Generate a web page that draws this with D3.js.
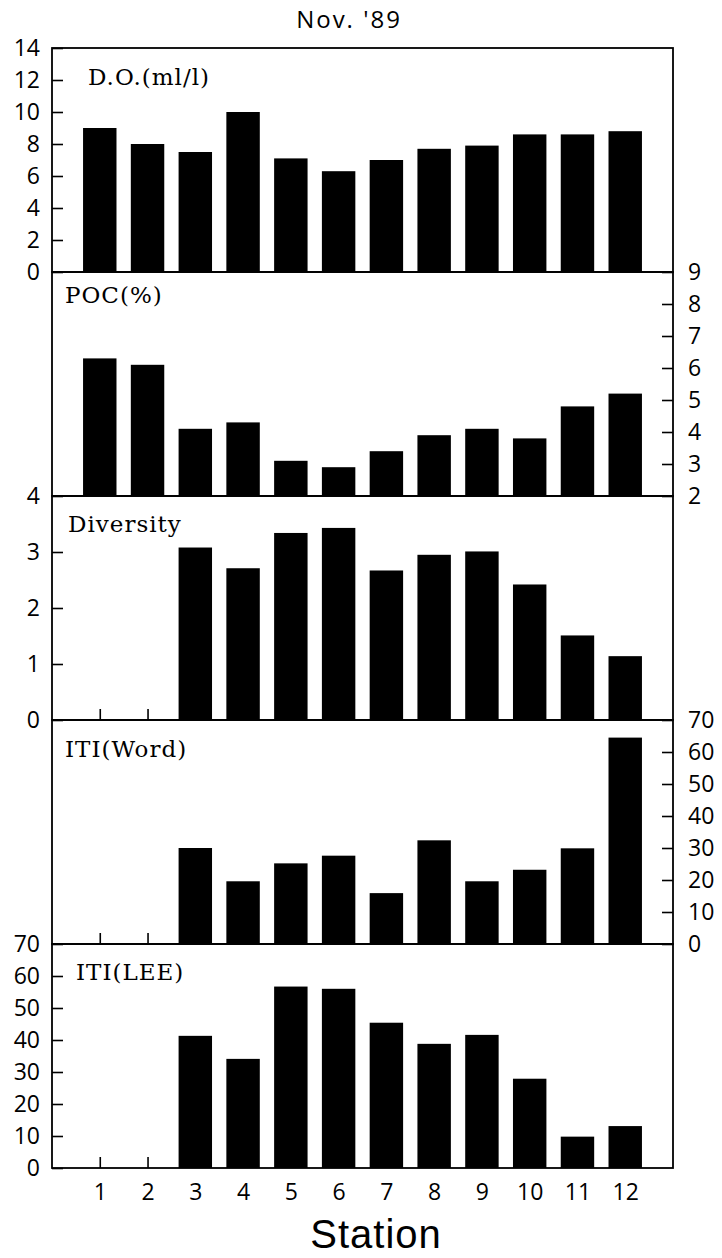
<!DOCTYPE html>
<html>
<head>
<meta charset="utf-8">
<script src="https://cdn.jsdelivr.net/npm/d3@7"></script>
<style>
  body { margin: 0; background: #fff; }
</style>
</head>
<body>
<script>
// station numbers along the bottom
const stations = [1, 2, 3, 4, 5, 6, 7, 8, 9, 10, 11, 12]

// one value per station, null = no bar
const doValues = [9.0, 8.0, 7.5, 10.0, 7.1, 6.3, 7.0, 7.7, 7.9, 8.6, 8.6, 8.8]
const pocValues = [6.3, 6.1, 4.1, 4.3, 3.1, 2.9, 3.4, 3.9, 4.1, 3.8, 4.8, 5.2]
const diversityValues = [null, null, 3.08, 2.71, 3.34, 3.43, 2.67, 2.95, 3.01, 2.42, 1.51, 1.14]
const itiWordValues = [null, null, 30.0, 19.6, 25.2, 27.6, 15.9, 32.4, 19.6, 23.2, 29.9, 64.5]
const itiLeeValues = [null, null, 41.3, 34.1, 56.7, 56.0, 45.4, 38.8, 41.6, 27.9, 9.8, 13.1]

// tick labels
const doTicks = [0, 2, 4, 6, 8, 10, 12, 14]
const pocTicks = [2, 3, 4, 5, 6, 7, 8, 9]
const diversityTicks = [0, 1, 2, 3, 4]
const itiTicks = [0, 10, 20, 30, 40, 50, 60, 70]

const panels = [
    { label: "D.O.(ml/l)", values: doValues, ticks: doTicks, side: "left", lx: 88, ly: 37 },
    { label: "POC(%)", values: pocValues, ticks: pocTicks, side: "right", lx: 65, ly: 31 },
    { label: "Diversity", values: diversityValues, ticks: diversityTicks, side: "left", lx: 68, ly: 36 },
    { label: "ITI(Word)", values: itiWordValues, ticks: itiTicks, side: "right", lx: 65, ly: 37 },
    { label: "ITI(LEE)", values: itiLeeValues, ticks: itiTicks, side: "left", lx: 76, ly: 36 }
]

const width = 722
const height = 1258
const marginLeft = 52
const plotRight = 673
const marginTop = 48
const panelHeight = 224
const sansFont = "'Open Sans', 'Liberation Sans', sans-serif"

const svg = d3.select("body").append("svg")
    .attr("width", width)
    .attr("height", height)
    .attr("viewBox", [0, 0, width, height])

const x = d3.scaleLinear([0, 13], [marginLeft, plotRight])
const barWidth = (x(1) - x(0)) * 0.7

svg.append("text")
    .attr("x", 349)
    .attr("y", 28)
    .attr("text-anchor", "middle")
    .style("font", `24px ${sansFont}`)
    .style("letter-spacing", "2px")
    .text("Nov. '89")

panels.forEach((p, i) => {
    const y0 = marginTop + i * panelHeight
    const y = d3.scaleLinear(d3.extent(p.ticks), [y0 + panelHeight, y0])
    const g = svg.append("g")

    // station ticks pointing up from each panel's floor
    g.append("g")
        .attr("transform", `translate(0,${y0 + panelHeight})`)
        .call(d3.axisBottom(x).tickValues(stations).tickSize(-11).tickFormat(i === panels.length - 1 ? d3.format("d") : ""))
        .call(a => a.select(".domain").remove())
        .call(a => a.selectAll("line").attr("stroke-width", 1.6))
        .call(a => a.selectAll("text").attr("fill", "#000").attr("y", 16)
            .style("font", `23px ${sansFont}`))

    const yAxis = p.side === "left"
        ? d3.axisLeft(y).tickPadding(12)
        : d3.axisRight(y).tickPadding(15)
    g.append("g")
        .attr("transform", `translate(${p.side === "left" ? marginLeft : plotRight},0)`)
        .call(yAxis.tickValues(p.ticks).tickSize(-11).tickFormat(d3.format("d")))
        .call(a => a.select(".domain").remove())
        .call(a => a.selectAll("line").attr("stroke-width", 1.6))
        .call(a => a.selectAll("text").attr("fill", "#000")
            .style("font", `23px ${sansFont}`))

    g.append("g")
        .selectAll("rect")
        .data(stations.map((s, k) => ({ station: s, value: p.values[k] })).filter(d => d.value != null))
        .join("rect")
        .attr("x", d => x(d.station) - barWidth / 2)
        .attr("width", barWidth)
        .attr("y", d => y(d.value))
        .attr("height", d => y(y.domain()[0]) - y(d.value))
        .attr("fill", "#000")

    g.append("rect")
        .attr("x", marginLeft)
        .attr("y", y0)
        .attr("width", plotRight - marginLeft)
        .attr("height", panelHeight)
        .attr("fill", "none")
        .attr("stroke", "#000")
        .attr("stroke-width", 1.8)

    g.append("text")
        .attr("x", p.lx)
        .attr("y", y0 + p.ly)
        .style("font", "23px 'DejaVu Serif', serif")
        .style("letter-spacing", "1px")
        .text(p.label)
})

svg.append("text")
    .attr("x", 376)
    .attr("y", 1248)
    .attr("text-anchor", "middle")
    .style("font", "40px 'Liberation Sans', sans-serif")
    .style("letter-spacing", "1px")
    .text("Station")
</script>
</body>
</html>
